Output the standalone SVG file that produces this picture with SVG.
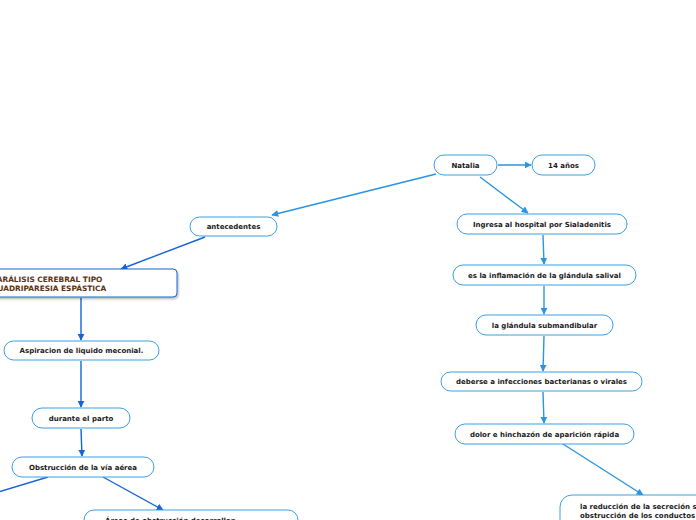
<svg xmlns="http://www.w3.org/2000/svg" width="696" height="520" viewBox="0 0 696 520">
<style>
.n rect{fill:#fff;stroke:#3b9fe6;stroke-width:1}
.n text{font-family:"DejaVu Sans",Verdana,sans-serif;font-weight:bold;font-size:7px;fill:#1a1a1a;text-anchor:middle}
.c{fill:none;stroke-width:1.4}
.l{stroke:#2b95e0}
.d{stroke:#1565d8}
</style>
<defs>
<marker id="al" viewBox="0 0 10 10" refX="9" refY="5" markerWidth="7" markerHeight="7" orient="auto" markerUnits="userSpaceOnUse"><path d="M0,0L10,5L0,10z" fill="#2b95e0"/></marker>
<marker id="ad" viewBox="0 0 10 10" refX="9" refY="5" markerWidth="7" markerHeight="7" orient="auto" markerUnits="userSpaceOnUse"><path d="M0,0L10,5L0,10z" fill="#1565d8"/></marker>
<filter id="sh" x="-10%" y="-20%" width="130%" height="160%"><feDropShadow dx="1" dy="1.5" stdDeviation="1" flood-color="#000" flood-opacity="0.3"/></filter>
</defs>
<rect width="696" height="520" fill="#fff"/>
<g id="connectors">
<path class="c l" d="M498,165L531,165" marker-end="url(#al)"/>
<path class="c l" d="M436,174L272,215" marker-end="url(#al)"/>
<path class="c l" d="M480,177L528,213" marker-end="url(#al)"/>
<path class="c d" d="M205,237L121,269" marker-end="url(#ad)"/>
<path class="c d" d="M81,298L81,340" marker-end="url(#ad)"/>
<path class="c d" d="M81,361L81,407" marker-end="url(#ad)"/>
<path class="c d" d="M81,429L82,456" marker-end="url(#ad)"/>
<path class="c d" d="M48,477L-5,493"/>
<path class="c d" d="M103,477L163,510" marker-end="url(#ad)"/>
<path class="c l" d="M543,235L544,264" marker-end="url(#al)"/>
<path class="c l" d="M544,286L544,314" marker-end="url(#al)"/>
<path class="c l" d="M544,336L543,371" marker-end="url(#al)"/>
<path class="c l" d="M543,392L544,423" marker-end="url(#al)"/>
<path class="c l" d="M563,444L643,495" marker-end="url(#al)"/>
</g>
<g id="natalia" class="n"><rect x="434" y="155" width="63" height="20" rx="10"/><text x="465.5" y="167.5">Natalia</text></g>
<g id="edad" class="n"><rect x="532" y="155" width="63" height="20" rx="10"/><text x="563.5" y="167.5">14 años</text></g>
<g id="antecedentes" class="n"><rect x="190" y="217" width="87" height="19" rx="9.5"/><text x="233.5" y="229">antecedentes</text></g>
<g id="paralisis" class="n"><rect x="-12" y="269" width="189" height="28" rx="4" filter="url(#sh)" style="stroke:#1565d8"/><text x="-8" y="282" style="text-anchor:start;fill:#5c3310;font-size:7.4px">PARÁLISIS CEREBRAL TIPO</text><text x="-8" y="291" style="text-anchor:start;fill:#5c3310;font-size:7.4px">CUADRIPARESIA ESPÁSTICA</text></g>
<g id="aspiracion" class="n"><rect x="4" y="341" width="155" height="19" rx="9.5"/><text x="81.5" y="353">Aspiracion de liquido meconial.</text></g>
<g id="parto" class="n"><rect x="32" y="408" width="98" height="20" rx="10"/><text x="81" y="420.5">durante el parto</text></g>
<g id="obstruccion" class="n"><rect x="12" y="457" width="142" height="20" rx="10"/><text x="83" y="469.5">Obstrucción de la vía aérea</text></g>
<g id="areas" class="n"><rect x="84" y="510" width="214" height="30" rx="10"/><text x="105" y="523" style="text-anchor:start">Áreas de obstrucción desarrollan</text></g>
<g id="ingresa" class="n"><rect x="457" y="214" width="170" height="20" rx="10"/><text x="542" y="226.5">Ingresa al hospital por Sialadenitis</text></g>
<g id="inflamacion" class="n"><rect x="453" y="265" width="183" height="20" rx="10"/><text x="544.5" y="277.5">es la inflamación de la glándula salival</text></g>
<g id="glandula" class="n"><rect x="476" y="315" width="137" height="20" rx="10"/><text x="544.5" y="327.5">la glándula submandibular</text></g>
<g id="deberse" class="n"><rect x="441" y="372" width="201" height="19" rx="9.5"/><text x="541.5" y="384">deberse a infecciones bacterianas o virales</text></g>
<g id="dolor" class="n"><rect x="455" y="424" width="179" height="20" rx="10"/><text x="544.5" y="436.5">dolor e hinchazón de aparición rápida</text></g>
<g id="reduccion" class="n"><rect x="560" y="495" width="160" height="40" rx="12"/><text x="580" y="509" style="text-anchor:start">la reducción de la secreción s</text><text x="580" y="518" style="text-anchor:start">obstrucción de los conductos</text></g>
</svg>
